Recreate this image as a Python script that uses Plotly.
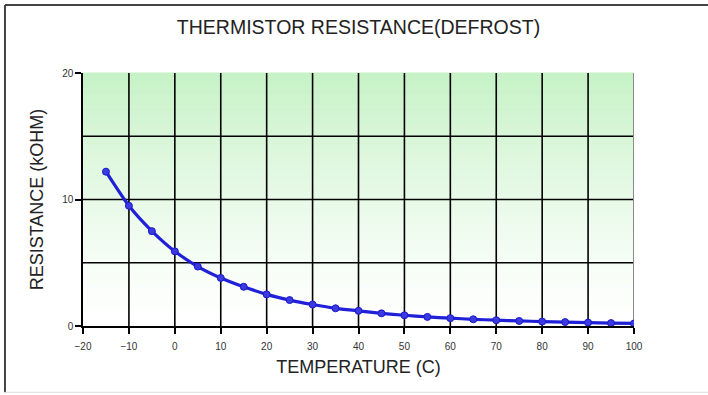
import plotly.graph_objects as go

# Defrost thermistor: resistance (kOhm) versus temperature (C)
temperature_c = [-15, -10, -5, 0, 5, 10, 15, 20, 25, 30, 35, 40, 45, 50,
                 55, 60, 65, 70, 75, 80, 85, 90, 95, 100]
resistance_kohm = [12.2, 9.5, 7.5, 5.9, 4.7, 3.8, 3.1, 2.5, 2.05, 1.7, 1.4, 1.2,
                   1.0, 0.85, 0.72, 0.62, 0.53, 0.46, 0.4, 0.35, 0.31, 0.27, 0.23, 0.2]

x_ticks = list(range(-20, 101, 10))
y_ticks = [0, 10, 20]
x_grid = list(range(-10, 91, 10))
y_grid = [5, 10, 15]

fig = go.Figure()

fig.add_trace(go.Scatter(
    x=temperature_c,
    y=resistance_kohm,
    mode="lines+markers",
    line=dict(color="#2020d8", width=3.2, shape="spline", smoothing=0.6),
    marker=dict(size=7, color="#3a3ae0", line=dict(color="#1a1ac8", width=1)),
    showlegend=False,
))

# vertical green-to-white gradient behind the grid
shapes = []
bands = 60
top = (198, 242, 198)
bottom = (255, 255, 255)
for i in range(bands):
    f = (i + 0.5) / bands  # 0 bottom .. 1 top
    w = f ** 1.3
    r = round(bottom[0] + (top[0] - bottom[0]) * w)
    g = round(bottom[1] + (top[1] - bottom[1]) * w)
    b = round(bottom[2] + (top[2] - bottom[2]) * w)
    shapes.append(dict(
        type="rect", xref="x domain", yref="y domain",
        x0=0, x1=1, y0=i / bands, y1=(i + 1) / bands + 0.002,
        fillcolor=f"rgb({r},{g},{b})", line=dict(width=0), layer="below",
    ))

# grid lines
for xv in x_grid:
    shapes.append(dict(
        type="line", xref="x", yref="y domain", x0=xv, x1=xv, y0=0, y1=1,
        line=dict(color="black", width=1.6), layer="below",
    ))
for yv in y_grid:
    shapes.append(dict(
        type="line", xref="x domain", yref="y", x0=0, x1=1, y0=yv, y1=yv,
        line=dict(color="black", width=1.6), layer="below",
    ))
# right edge of the plotting area in grey
shapes.append(dict(
    type="line", xref="x", yref="y domain", x0=100, x1=100, y0=0, y1=1,
    line=dict(color="#8a8a8a", width=2), layer="below",
))

# outer frame of the chart: dark left and top edges, faint bottom edge
frame_left, frame_top, frame_bottom = -0.1416, 1.269, -0.262
shapes.append(dict(
    type="line", xref="paper", yref="paper",
    x0=frame_left, x1=frame_left, y0=frame_bottom, y1=frame_top,
    line=dict(color="#444444", width=2), layer="above",
))
shapes.append(dict(
    type="line", xref="paper", yref="paper",
    x0=frame_left, x1=1.25, y0=frame_top, y1=frame_top,
    line=dict(color="#444444", width=2), layer="above",
))
shapes.append(dict(
    type="line", xref="paper", yref="paper",
    x0=frame_left, x1=1.25, y0=frame_bottom, y1=frame_bottom,
    line=dict(color="#dddddd", width=1), layer="above",
))

fig.update_layout(
    width=708,
    height=395,
    margin=dict(l=83, r=74, t=73, b=69),
    paper_bgcolor="white",
    plot_bgcolor="white",
    font=dict(family="Liberation Sans, Arial, sans-serif", color="#222222"),
    title=dict(
        text="THERMISTOR RESISTANCE(DEFROST)",
        x=(83 + 634) / 2 / 708, xanchor="center",
        y=1 - 27 / 395, yanchor="middle",
        font=dict(size=19.5, color="#222222"),
    ),
    shapes=shapes,
)

fig.update_xaxes(
    range=[-20, 100],
    tickvals=x_ticks,
    ticks="outside", ticklen=6, tickwidth=1.5, tickcolor="black",
    ticklabelstandoff=4,
    showgrid=False,
    showline=True, linecolor="black", linewidth=1.5,
    zeroline=False,
    tickfont=dict(size=10, color="#333333"),
    title=dict(text="TEMPERATURE (C)", font=dict(size=18, color="#222222"), standoff=10),
)

fig.update_yaxes(
    range=[0, 20],
    tickvals=y_ticks,
    ticks="outside", ticklen=6, tickwidth=1.5, tickcolor="black",
    showgrid=False,
    showline=True, linecolor="black", linewidth=1.5,
    zeroline=False,
    tickfont=dict(size=10, color="#333333"),
    title=dict(text="RESISTANCE (kOHM)", font=dict(size=18, color="#222222"), standoff=14),
)

fig.write_html("out.html")
